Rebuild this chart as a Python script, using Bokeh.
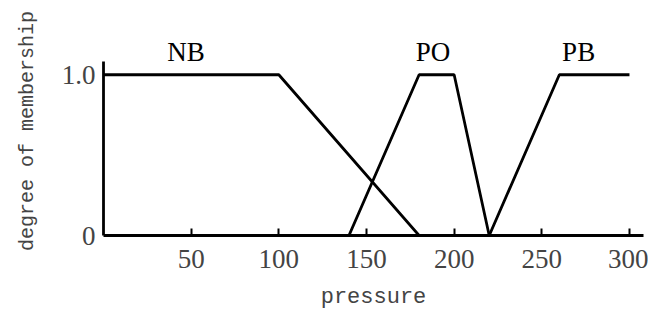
from bokeh.plotting import figure
from bokeh.models import FixedTicker, Label
from bokeh.embed import file_html
from bokeh.resources import INLINE

# Membership functions (pressure -> degree)
nb_x = [0, 100, 180]
nb_y = [1.0, 1.0, 0.0]
po_x = [140, 180, 200, 220]
po_y = [0.0, 1.0, 1.0, 0.0]
pb_x = [220, 260, 300]
pb_y = [0.0, 1.0, 1.0]

set_names = ["NB", "PO", "PB"]
set_label_x = [47, 188, 271]
set_label_y = 1.05

x_ticks = [50, 100, 150, 200, 250, 300]
y_ticks = [0, 1]
y_tick_labels = {0: "0", 1: "1.0"}

p = figure(width=648, height=312, x_range=(0, 308), y_range=(0, 1.3),
           output_backend="svg", toolbar_location=None,
           min_border_left=103, min_border_right=5, min_border_top=26, min_border_bottom=75)
p.outline_line_color = None
p.xgrid.visible = False
p.ygrid.visible = False
p.background_fill_color = "white"
p.border_fill_color = "white"

for xs, ys in [(nb_x, nb_y), (po_x, po_y), (pb_x, pb_y)]:
    p.line(xs, ys, line_color="black", line_width=2.8)

for name, lx in zip(set_names, set_label_x):
    p.add_layout(Label(x=lx, y=set_label_y, text=name, text_align="center",
                       text_baseline="bottom", text_font="Liberation Serif",
                       text_font_size="27px", text_color="black"))

p.xaxis.ticker = FixedTicker(ticks=x_ticks)
p.xaxis.major_tick_in = 7
p.xaxis.major_tick_out = 0
p.xaxis.minor_tick_line_color = None
p.xaxis.axis_line_width = 2.8
p.xaxis.major_tick_line_width = 2
p.xaxis.major_label_text_font = "Liberation Serif"
p.xaxis.major_label_text_font_size = "27px"
p.xaxis.major_label_standoff = 14
p.xaxis.axis_label = "pressure"
p.xaxis.axis_label_text_font = "Liberation Mono"
p.xaxis.axis_label_text_font_style = "normal"
p.xaxis.axis_label_text_font_size = "22px"
p.xaxis.axis_label_standoff = 14

p.yaxis.ticker = FixedTicker(ticks=y_ticks)
p.yaxis.bounds = (0, 1.08)
p.yaxis.major_label_overrides = y_tick_labels
p.yaxis.major_tick_in = 0
p.yaxis.major_tick_out = 0
p.yaxis.minor_tick_line_color = None
p.yaxis.axis_line_width = 2.8
p.yaxis.major_label_text_font = "Liberation Serif"
p.yaxis.major_label_text_font_size = "27px"
p.yaxis.major_label_standoff = 8
p.yaxis.axis_label = "degree of membership"
p.yaxis.axis_label_text_font = "Liberation Mono"
p.yaxis.axis_label_text_font_style = "normal"
p.yaxis.axis_label_text_font_size = "20px"
p.yaxis.axis_label_standoff = 20

open("out.html", "w").write(file_html(p, INLINE))
